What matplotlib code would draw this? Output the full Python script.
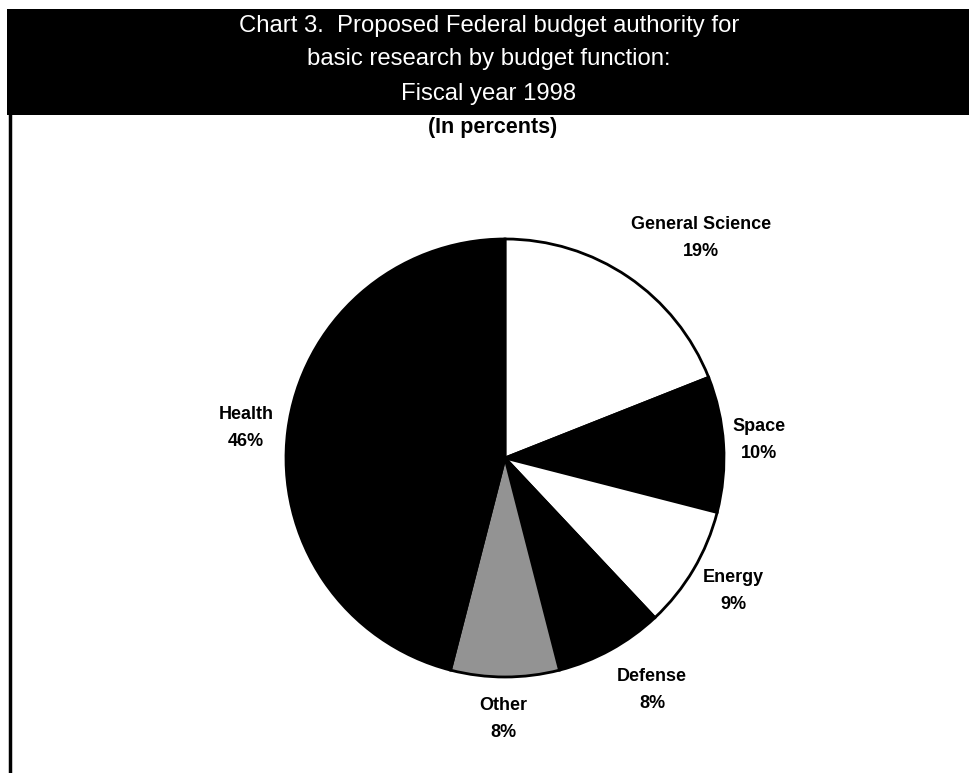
import matplotlib
matplotlib.use("Agg")
import matplotlib.pyplot as plt
from matplotlib.patches import Rectangle
from matplotlib.lines import Line2D

# data (percent of basic research budget, FY 1998)
categories = ["General Science", "Space", "Energy", "Defense", "Other", "Health"]
shares = [19, 10, 9, 8, 8, 46]

title_lines = [
    "Chart 3.  Proposed Federal budget authority for",
    "basic research by budget function:",
    "Fiscal year 1998",
]
subtitle = "(In percents)"

# styling / layout
wedge_colors = ["white", "black", "white", "black", "#939393", "black"]
# label block centres, in pie-radius units
label_pos = [(0.895, 1.005), (1.16, 0.082), (1.041, -0.607),
             (0.671, -1.059), (-0.009, -1.192), (-1.183, 0.137)]

FONT = ["Liberation Sans", "DejaVu Sans"]
W, H = 970, 773
cx, cy, r = 505, 458, 219

fig = plt.figure(figsize=(W / 100, H / 100), dpi=100)
fig.patch.set_facecolor("white")

# header bar and left rule
fig.patches.append(Rectangle((7 / W, 1 - 115 / H), (W - 7) / W, 106 / H,
                             transform=fig.transFigure, facecolor="black",
                             edgecolor="none"))
fig.lines.append(Line2D([10 / W, 10 / W], [0, 1 - 115 / H],
                        transform=fig.transFigure, color="black", lw=2.5))

for y, line in zip([26, 59, 94], title_lines):
    fig.text(489 / W, 1 - y / H, line, color="white", ha="center", va="center",
             fontsize=17.2, family=FONT)
fig.text(493 / W, 1 - 128 / H, subtitle, color="black", ha="center",
         va="center", fontsize=15.5, fontweight="bold", family=FONT)

ax = fig.add_axes([0, 0, 1, 1])
ax.pie(shares, colors=wedge_colors, startangle=90, counterclock=False,
       radius=1, wedgeprops=dict(edgecolor="black", linewidth=2))
ax.set_xlim(-cx / r, (W - cx) / r)
ax.set_ylim(-(H - cy) / r, cy / r)
ax.set_aspect("equal")

for name, v, (x, y) in zip(categories, shares, label_pos):
    ax.text(x, y, f"{name}\n{v}%", ha="center", va="center", fontsize=13,
            fontweight="bold", family=FONT, linespacing=1.75)

fig.savefig("out.png", dpi=100)
